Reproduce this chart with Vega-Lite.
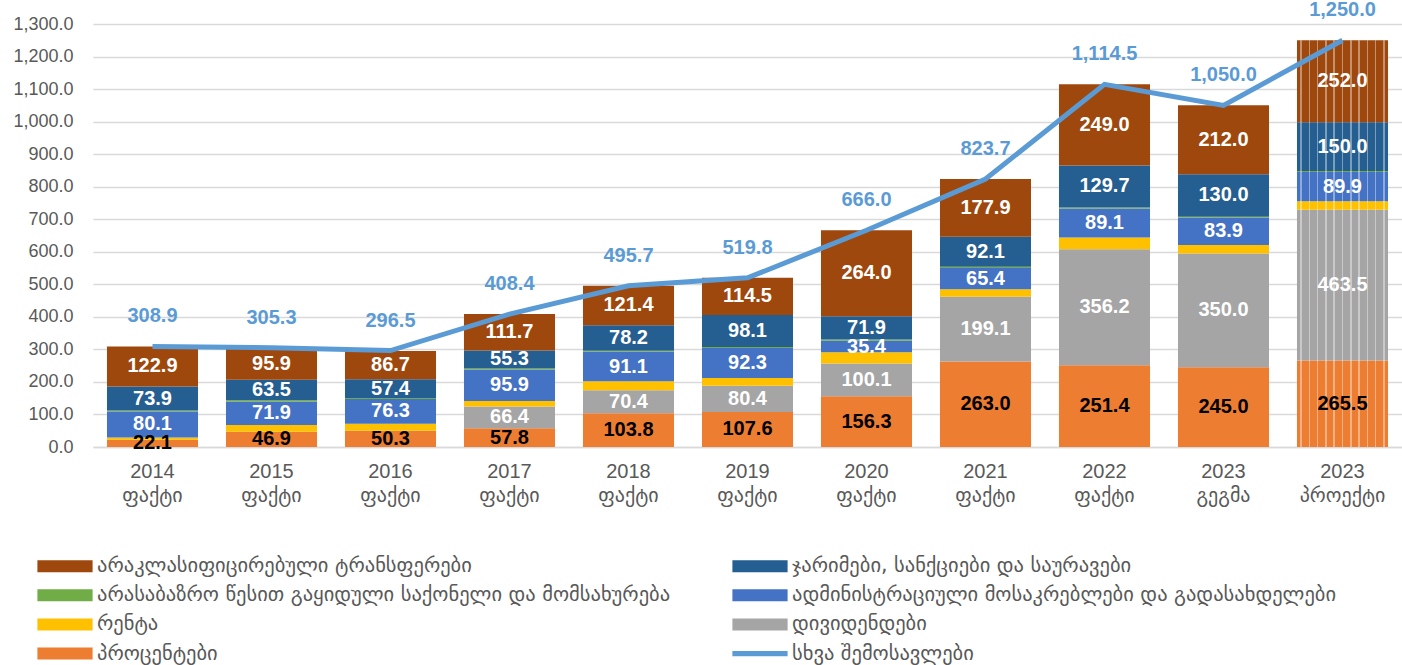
{
  "$schema": "https://vega.github.io/schema/vega-lite/v6.json",
  "width": 1309,
  "height": 423,
  "autosize": {"type": "none"},
  "padding": {"left": 93, "top": 24, "right": 0, "bottom": 218},
  "background": "white",
  "config": {
    "view": {"stroke": null},
    "font": "Liberation Sans"
  },
  "resolve": {"axis": {"x": "independent", "y": "independent"}},
  "datasets": {
    "segs": [
      {"cat": "2014|ფაქტი", "series": "პროცენტები", "k": 1, "value": 22.1},
      {"cat": "2014|ფაქტი", "series": "რენტა", "k": 3, "value": 7.0},
      {"cat": "2014|ფაქტი", "series": "ადმინისტრაციული მოსაკრებლები და გადასახდელები", "k": 4, "value": 80.1},
      {"cat": "2014|ფაქტი", "series": "არასაბაზრო წესით გაყიდული საქონელი და მომსახურება", "k": 5, "value": 2.9},
      {"cat": "2014|ფაქტი", "series": "ჯარიმები, სანქციები და საურავები", "k": 6, "value": 73.9},
      {"cat": "2014|ფაქტი", "series": "არაკლასიფიცირებული ტრანსფერები", "k": 7, "value": 122.9},

      {"cat": "2015|ფაქტი", "series": "პროცენტები", "k": 1, "value": 46.9},
      {"cat": "2015|ფაქტი", "series": "რენტა", "k": 3, "value": 20.5},
      {"cat": "2015|ფაქტი", "series": "ადმინისტრაციული მოსაკრებლები და გადასახდელები", "k": 4, "value": 71.9},
      {"cat": "2015|ფაქტი", "series": "არასაბაზრო წესით გაყიდული საქონელი და მომსახურება", "k": 5, "value": 4.0},
      {"cat": "2015|ფაქტი", "series": "ჯარიმები, სანქციები და საურავები", "k": 6, "value": 63.5},
      {"cat": "2015|ფაქტი", "series": "არაკლასიფიცირებული ტრანსფერები", "k": 7, "value": 95.9},

      {"cat": "2016|ფაქტი", "series": "პროცენტები", "k": 1, "value": 50.3},
      {"cat": "2016|ფაქტი", "series": "რენტა", "k": 3, "value": 21.0},
      {"cat": "2016|ფაქტი", "series": "ადმინისტრაციული მოსაკრებლები და გადასახდელები", "k": 4, "value": 76.3},
      {"cat": "2016|ფაქტი", "series": "არასაბაზრო წესით გაყიდული საქონელი და მომსახურება", "k": 5, "value": 3.2},
      {"cat": "2016|ფაქტი", "series": "ჯარიმები, სანქციები და საურავები", "k": 6, "value": 57.4},
      {"cat": "2016|ფაქტი", "series": "არაკლასიფიცირებული ტრანსფერები", "k": 7, "value": 86.7},

      {"cat": "2017|ფაქტი", "series": "პროცენტები", "k": 1, "value": 57.8},
      {"cat": "2017|ფაქტი", "series": "დივიდენდები", "k": 2, "value": 66.4},
      {"cat": "2017|ფაქტი", "series": "რენტა", "k": 3, "value": 17.5},
      {"cat": "2017|ფაქტი", "series": "ადმინისტრაციული მოსაკრებლები და გადასახდელები", "k": 4, "value": 95.9},
      {"cat": "2017|ფაქტი", "series": "არასაბაზრო წესით გაყიდული საქონელი და მომსახურება", "k": 5, "value": 3.8},
      {"cat": "2017|ფაქტი", "series": "ჯარიმები, სანქციები და საურავები", "k": 6, "value": 55.3},
      {"cat": "2017|ფაქტი", "series": "არაკლასიფიცირებული ტრანსფერები", "k": 7, "value": 111.7},

      {"cat": "2018|ფაქტი", "series": "პროცენტები", "k": 1, "value": 103.8},
      {"cat": "2018|ფაქტი", "series": "დივიდენდები", "k": 2, "value": 70.4},
      {"cat": "2018|ფაქტი", "series": "რენტა", "k": 3, "value": 27.5},
      {"cat": "2018|ფაქტი", "series": "ადმინისტრაციული მოსაკრებლები და გადასახდელები", "k": 4, "value": 91.1},
      {"cat": "2018|ფაქტი", "series": "არასაბაზრო წესით გაყიდული საქონელი და მომსახურება", "k": 5, "value": 3.3},
      {"cat": "2018|ფაქტი", "series": "ჯარიმები, სანქციები და საურავები", "k": 6, "value": 78.2},
      {"cat": "2018|ფაქტი", "series": "არაკლასიფიცირებული ტრანსფერები", "k": 7, "value": 121.4},

      {"cat": "2019|ფაქტი", "series": "პროცენტები", "k": 1, "value": 107.6},
      {"cat": "2019|ფაქტი", "series": "დივიდენდები", "k": 2, "value": 80.4},
      {"cat": "2019|ფაქტი", "series": "რენტა", "k": 3, "value": 24.0},
      {"cat": "2019|ფაქტი", "series": "ადმინისტრაციული მოსაკრებლები და გადასახდელები", "k": 4, "value": 92.3},
      {"cat": "2019|ფაქტი", "series": "არასაბაზრო წესით გაყიდული საქონელი და მომსახურება", "k": 5, "value": 2.9},
      {"cat": "2019|ფაქტი", "series": "ჯარიმები, სანქციები და საურავები", "k": 6, "value": 98.1},
      {"cat": "2019|ფაქტი", "series": "არაკლასიფიცირებული ტრანსფერები", "k": 7, "value": 114.5},

      {"cat": "2020|ფაქტი", "series": "პროცენტები", "k": 1, "value": 156.3},
      {"cat": "2020|ფაქტი", "series": "დივიდენდები", "k": 2, "value": 100.1},
      {"cat": "2020|ფაქტი", "series": "რენტა", "k": 3, "value": 34.5},
      {"cat": "2020|ფაქტი", "series": "ადმინისტრაციული მოსაკრებლები და გადასახდელები", "k": 4, "value": 35.4},
      {"cat": "2020|ფაქტი", "series": "არასაბაზრო წესით გაყიდული საქონელი და მომსახურება", "k": 5, "value": 3.8},
      {"cat": "2020|ფაქტი", "series": "ჯარიმები, სანქციები და საურავები", "k": 6, "value": 71.9},
      {"cat": "2020|ფაქტი", "series": "არაკლასიფიცირებული ტრანსფერები", "k": 7, "value": 264.0},

      {"cat": "2021|ფაქტი", "series": "პროცენტები", "k": 1, "value": 263.0},
      {"cat": "2021|ფაქტი", "series": "დივიდენდები", "k": 2, "value": 199.1},
      {"cat": "2021|ფაქტი", "series": "რენტა", "k": 3, "value": 22.5},
      {"cat": "2021|ფაქტი", "series": "ადმინისტრაციული მოსაკრებლები და გადასახდელები", "k": 4, "value": 65.4},
      {"cat": "2021|ფაქტი", "series": "არასაბაზრო წესით გაყიდული საქონელი და მომსახურება", "k": 5, "value": 3.7},
      {"cat": "2021|ფაქტი", "series": "ჯარიმები, სანქციები და საურავები", "k": 6, "value": 92.1},
      {"cat": "2021|ფაქტი", "series": "არაკლასიფიცირებული ტრანსფერები", "k": 7, "value": 177.9},

      {"cat": "2022|ფაქტი", "series": "პროცენტები", "k": 1, "value": 251.4},
      {"cat": "2022|ფაქტი", "series": "დივიდენდები", "k": 2, "value": 356.2},
      {"cat": "2022|ფაქტი", "series": "რენტა", "k": 3, "value": 36.0},
      {"cat": "2022|ფაქტი", "series": "ადმინისტრაციული მოსაკრებლები და გადასახდელები", "k": 4, "value": 89.1},
      {"cat": "2022|ფაქტი", "series": "არასაბაზრო წესით გაყიდული საქონელი და მომსახურება", "k": 5, "value": 3.1},
      {"cat": "2022|ფაქტი", "series": "ჯარიმები, სანქციები და საურავები", "k": 6, "value": 129.7},
      {"cat": "2022|ფაქტი", "series": "არაკლასიფიცირებული ტრანსფერები", "k": 7, "value": 249.0},

      {"cat": "2023|გეგმა", "series": "პროცენტები", "k": 1, "value": 245.0},
      {"cat": "2023|გეგმა", "series": "დივიდენდები", "k": 2, "value": 350.0},
      {"cat": "2023|გეგმა", "series": "რენტა", "k": 3, "value": 26.0},
      {"cat": "2023|გეგმა", "series": "ადმინისტრაციული მოსაკრებლები და გადასახდელები", "k": 4, "value": 83.9},
      {"cat": "2023|გეგმა", "series": "არასაბაზრო წესით გაყიდული საქონელი და მომსახურება", "k": 5, "value": 3.1},
      {"cat": "2023|გეგმა", "series": "ჯარიმები, სანქციები და საურავები", "k": 6, "value": 130.0},
      {"cat": "2023|გეგმა", "series": "არაკლასიფიცირებული ტრანსფერები", "k": 7, "value": 212.0},

      {"cat": "2023|პროექტი", "series": "პროცენტები", "k": 1, "value": 265.5},
      {"cat": "2023|პროექტი", "series": "დივიდენდები", "k": 2, "value": 463.5},
      {"cat": "2023|პროექტი", "series": "რენტა", "k": 3, "value": 26.5},
      {"cat": "2023|პროექტი", "series": "ადმინისტრაციული მოსაკრებლები და გადასახდელები", "k": 4, "value": 89.9},
      {"cat": "2023|პროექტი", "series": "არასაბაზრო წესით გაყიდული საქონელი და მომსახურება", "k": 5, "value": 2.6},
      {"cat": "2023|პროექტი", "series": "ჯარიმები, სანქციები და საურავები", "k": 6, "value": 150.0},
      {"cat": "2023|პროექტი", "series": "არაკლასიფიცირებული ტრანსფერები", "k": 7, "value": 252.0}
    ],
    "tot": [
      {"cat": "2014|ფაქტი", "total": 308.9},
      {"cat": "2015|ფაქტი", "total": 305.3},
      {"cat": "2016|ფაქტი", "total": 296.5},
      {"cat": "2017|ფაქტი", "total": 408.4},
      {"cat": "2018|ფაქტი", "total": 495.7},
      {"cat": "2019|ფაქტი", "total": 519.8},
      {"cat": "2020|ფაქტი", "total": 666.0},
      {"cat": "2021|ფაქტი", "total": 823.7},
      {"cat": "2022|ფაქტი", "total": 1114.5},
      {"cat": "2023|გეგმა", "total": 1050.0},
      {"cat": "2023|პროექტი", "total": 1250.0}
    ]
  },
  "layer": [
    {
      "data": {"name": "segs"},
      "mark": {"type": "bar"},
      "encoding": {
        "x": {
          "field": "cat", "type": "nominal",
          "scale": {
            "domain": ["2014|ფაქტი", "2015|ფაქტი", "2016|ფაქტი", "2017|ფაქტი", "2018|ფაქტი", "2019|ფაქტი", "2020|ფაქტი", "2021|ფაქტი", "2022|ფაქტი", "2023|გეგმა", "2023|პროექტი"],
            "paddingInner": 0.235, "paddingOuter": 0.1175
          },
          "axis": {
            "title": null, "labelExpr": "split(datum.value, '|')", "labelAngle": 0,
            "labelFontSize": 20, "labelColor": "#595959", "labelFont": "Liberation Sans, DejaVu Sans",
            "labelPadding": 14, "labelLineHeight": 24, "ticks": false,
            "domainColor": "#D9D9D9", "domainWidth": 1.5, "grid": false
          }
        },
        "y": {
          "field": "value", "type": "quantitative", "stack": "zero",
          "scale": {"domain": [0, 1300], "nice": false, "zero": true},
          "axis": {
            "title": null, "values": [0, 100, 200, 300, 400, 500, 600, 700, 800, 900, 1000, 1100, 1200, 1300],
            "format": ",.1f", "labelFontSize": 18, "labelColor": "#595959", "labelFont": "Liberation Sans",
            "labelPadding": 20, "labelOverlap": false, "labelBound": false, "ticks": false, "domain": false,
            "gridColor": "#D9D9D9", "gridWidth": 1.5
          }
        },
        "color": {
          "field": "series", "type": "nominal",
          "scale": {
            "domain": ["არაკლასიფიცირებული ტრანსფერები", "ჯარიმები, სანქციები და საურავები", "არასაბაზრო წესით გაყიდული საქონელი და მომსახურება", "ადმინისტრაციული მოსაკრებლები და გადასახდელები", "რენტა", "დივიდენდები", "პროცენტები", "სხვა შემოსავლები"],
            "range": ["#9E480E", "#255E91", "#70AD47", "#4472C4", "#FFC000", "#A5A5A5", "#ED7D31", "#5B9BD5"]
          },
          "legend": {
            "title": null, "orient": "none", "legendX": -40, "legendY": 530,
            "direction": "horizontal", "columns": 2, "columnPadding": 61, "rowPadding": 6.2, "padding": 0,
            "symbolType": "M-2.3,-0.5H2.3V0.5H-2.3Z", "symbolSize": 576, "symbolStrokeWidth": 0,
            "labelFontSize": 20.5, "labelColor": "#595959", "labelFont": "DejaVu Sans",
            "labelLimit": 900, "labelOffset": 20,
            "encode": {
              "symbols": {
                "update": {
                  "shape": {"signal": "datum.value === 'სხვა შემოსავლები' ? 'M-2.3,-0.22H2.3V0.22H-2.3Z' : 'M-2.3,-0.5H2.3V0.5H-2.3Z'"}
                }
              }
            }
          }
        },
        "order": {"field": "k", "type": "quantitative", "sort": "ascending"}
      }
    },
    {
      "data": {"name": "tot"},
      "transform": [{"filter": "datum.cat === '2023|პროექტი'"}],
      "mark": {
        "type": "bar",
        "fill": {
          "gradient": "linear", "x1": 0, "y1": 0, "x2": 1, "y2": 0,
          "stops": [
            {"offset": 0.0, "color": "rgba(255,255,255,0)"},
            {"offset": 0.0357, "color": "rgba(255,255,255,0)"}, {"offset": 0.0357, "color": "rgba(255,255,255,0.4)"},
            {"offset": 0.0522, "color": "rgba(255,255,255,0.4)"}, {"offset": 0.0522, "color": "rgba(255,255,255,0)"},
            {"offset": 0.1269, "color": "rgba(255,255,255,0)"}, {"offset": 0.1269, "color": "rgba(255,255,255,0.4)"},
            {"offset": 0.1434, "color": "rgba(255,255,255,0.4)"}, {"offset": 0.1434, "color": "rgba(255,255,255,0)"},
            {"offset": 0.2181, "color": "rgba(255,255,255,0)"}, {"offset": 0.2181, "color": "rgba(255,255,255,0.4)"},
            {"offset": 0.2346, "color": "rgba(255,255,255,0.4)"}, {"offset": 0.2346, "color": "rgba(255,255,255,0)"},
            {"offset": 0.3093, "color": "rgba(255,255,255,0)"}, {"offset": 0.3093, "color": "rgba(255,255,255,0.4)"},
            {"offset": 0.3258, "color": "rgba(255,255,255,0.4)"}, {"offset": 0.3258, "color": "rgba(255,255,255,0)"},
            {"offset": 0.4005, "color": "rgba(255,255,255,0)"}, {"offset": 0.4005, "color": "rgba(255,255,255,0.4)"},
            {"offset": 0.4170, "color": "rgba(255,255,255,0.4)"}, {"offset": 0.4170, "color": "rgba(255,255,255,0)"},
            {"offset": 0.4918, "color": "rgba(255,255,255,0)"}, {"offset": 0.4918, "color": "rgba(255,255,255,0.4)"},
            {"offset": 0.5082, "color": "rgba(255,255,255,0.4)"}, {"offset": 0.5082, "color": "rgba(255,255,255,0)"},
            {"offset": 0.5830, "color": "rgba(255,255,255,0)"}, {"offset": 0.5830, "color": "rgba(255,255,255,0.4)"},
            {"offset": 0.5995, "color": "rgba(255,255,255,0.4)"}, {"offset": 0.5995, "color": "rgba(255,255,255,0)"},
            {"offset": 0.6742, "color": "rgba(255,255,255,0)"}, {"offset": 0.6742, "color": "rgba(255,255,255,0.4)"},
            {"offset": 0.6907, "color": "rgba(255,255,255,0.4)"}, {"offset": 0.6907, "color": "rgba(255,255,255,0)"},
            {"offset": 0.7654, "color": "rgba(255,255,255,0)"}, {"offset": 0.7654, "color": "rgba(255,255,255,0.4)"},
            {"offset": 0.7819, "color": "rgba(255,255,255,0.4)"}, {"offset": 0.7819, "color": "rgba(255,255,255,0)"},
            {"offset": 0.8566, "color": "rgba(255,255,255,0)"}, {"offset": 0.8566, "color": "rgba(255,255,255,0.4)"},
            {"offset": 0.8731, "color": "rgba(255,255,255,0.4)"}, {"offset": 0.8731, "color": "rgba(255,255,255,0)"},
            {"offset": 0.9478, "color": "rgba(255,255,255,0)"}, {"offset": 0.9478, "color": "rgba(255,255,255,0.4)"},
            {"offset": 0.9643, "color": "rgba(255,255,255,0.4)"}, {"offset": 0.9643, "color": "rgba(255,255,255,0)"},
            {"offset": 1.0, "color": "rgba(255,255,255,0)"}
          ]
        }
      },
      "encoding": {
        "x": {"field": "cat", "type": "nominal", "axis": null},
        "y": {"field": "total", "type": "quantitative", "stack": null, "axis": null}
      }
    },
    {
      "data": {"name": "segs"},
      "transform": [
        {"stack": "value", "groupby": ["cat"], "sort": [{"field": "k", "order": "ascending"}], "as": ["v0", "v1"]},
        {"filter": "datum.value > 0 && datum.k != 3 && datum.k != 5"},
        {"fold": ["v0", "v1"], "as": ["edge_name", "edge"]}
      ],
      "mark": {"type": "text", "fontSize": 20, "fontWeight": "bold", "baseline": "middle", "align": "center", "font": "Liberation Sans"},
      "encoding": {
        "x": {"field": "cat", "type": "nominal", "axis": null},
        "y": {"field": "edge", "aggregate": "mean", "type": "quantitative", "stack": null, "axis": null},
        "detail": {"field": "series", "type": "nominal"},
        "text": {"field": "value", "type": "quantitative", "format": ".1f"},
        "color": {"condition": {"test": "datum.series === 'პროცენტები'", "value": "#000000"}, "value": "#FFFFFF"}
      }
    },
    {
      "data": {"name": "tot"},
      "mark": {"type": "line", "color": "#5B9BD5", "strokeWidth": 5},
      "encoding": {
        "x": {"field": "cat", "type": "nominal", "axis": null},
        "y": {"field": "total", "type": "quantitative", "axis": null}
      }
    },
    {
      "data": {"name": "tot"},
      "mark": {"type": "text", "fontSize": 20, "fontWeight": "bold", "baseline": "middle", "align": "center", "dy": -30, "color": "#5B9BD5", "font": "Liberation Sans"},
      "encoding": {
        "x": {"field": "cat", "type": "nominal", "axis": null},
        "y": {"field": "total", "type": "quantitative", "axis": null},
        "text": {"field": "total", "type": "quantitative", "format": ",.1f"}
      }
    }
  ]
}
